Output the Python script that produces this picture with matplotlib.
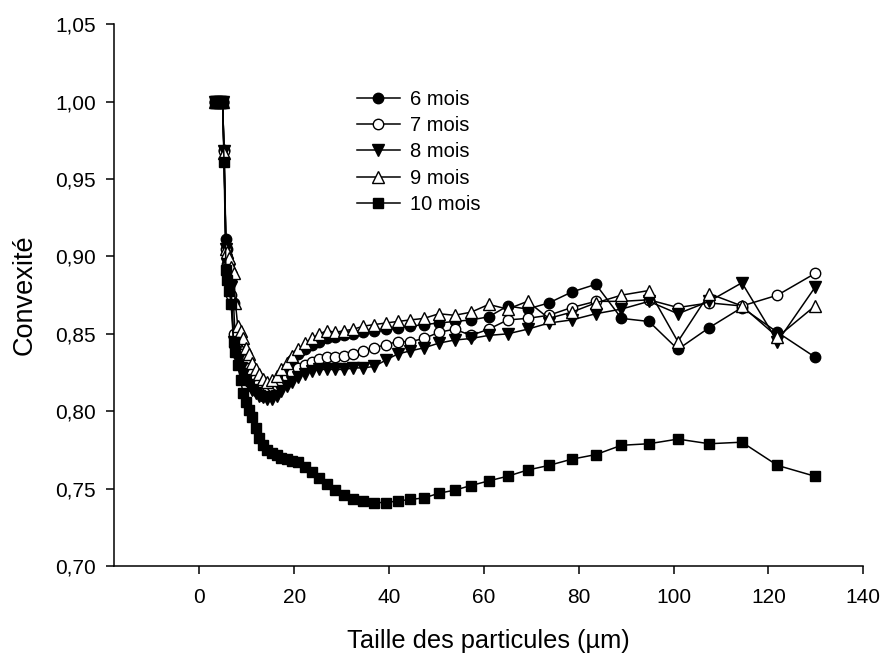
import matplotlib
matplotlib.use("Agg")
import matplotlib.pyplot as plt
from matplotlib.ticker import FuncFormatter

plt.rcParams['font.family'] = ['Liberation Sans', 'DejaVu Sans']

sizes = [3.4, 3.6, 3.8, 4.1, 4.3, 4.6, 4.9, 5.2, 5.6, 5.9, 6.3, 6.7, 7.2, 7.6, 8.1, 8.7,
         9.2, 9.8, 10.5, 11.1, 11.9, 12.6, 13.5, 14.3, 15.3, 16.3, 17.3, 18.4, 19.6,
         20.9, 22.3, 23.7, 25.3, 26.9, 28.7, 30.5, 32.5, 34.6, 36.9, 39.3, 41.8, 44.5,
         47.4, 50.5, 53.8, 57.3, 61.0, 65.0, 69.2, 73.7, 78.5, 83.6, 89.0, 94.8, 100.9,
         107.5, 114.4, 121.9, 129.8]

m6 = [1.0, 1.0, 1.0, 1.0, 1.0, 1.0, 1.0, 0.969, 0.911, 0.905, 0.895, 0.885, 0.870, 0.845,
      0.840, 0.835, 0.830, 0.826, 0.822, 0.818, 0.814, 0.812, 0.810, 0.810, 0.812, 0.816,
      0.822, 0.828, 0.833, 0.837, 0.840, 0.843, 0.845, 0.847, 0.848, 0.849, 0.850, 0.851,
      0.852, 0.853, 0.854, 0.855, 0.856, 0.857, 0.858, 0.859, 0.861, 0.868, 0.866, 0.870,
      0.877, 0.882, 0.860, 0.858, 0.840, 0.854, 0.867, 0.851, 0.835]

m7 = [1.0, 1.0, 1.0, 1.0, 1.0, 1.0, 1.0, 0.968, 0.905, 0.895, 0.888, 0.875, 0.850, 0.843,
      0.840, 0.837, 0.834, 0.831, 0.828, 0.825, 0.822, 0.819, 0.817, 0.816, 0.816, 0.817,
      0.819, 0.822, 0.825, 0.828, 0.830, 0.832, 0.834, 0.835, 0.835, 0.836, 0.837, 0.839,
      0.841, 0.843, 0.845, 0.845, 0.847, 0.851, 0.853, 0.849, 0.853, 0.859, 0.860, 0.862,
      0.867, 0.871, 0.871, 0.872, 0.867, 0.870, 0.868, 0.875, 0.889]

m8 = [1.0, 1.0, 1.0, 1.0, 1.0, 1.0, 1.0, 0.968, 0.905, 0.895, 0.888, 0.880, 0.845, 0.838,
      0.833, 0.828, 0.824, 0.820, 0.817, 0.814, 0.812, 0.810, 0.809, 0.808, 0.808, 0.810,
      0.813, 0.816, 0.819, 0.822, 0.824, 0.826, 0.827, 0.827, 0.827, 0.827, 0.828, 0.828,
      0.829, 0.833, 0.837, 0.839, 0.841, 0.844, 0.846, 0.847, 0.849, 0.850, 0.853, 0.857,
      0.859, 0.863, 0.866, 0.871, 0.863, 0.871, 0.883, 0.845, 0.880]

m9 = [1.0, 1.0, 1.0, 1.0, 1.0, 1.0, 1.0, 0.967, 0.905, 0.903, 0.899, 0.893, 0.889, 0.870,
      0.855, 0.852, 0.847, 0.841, 0.837, 0.831, 0.827, 0.824, 0.821, 0.819, 0.820, 0.823,
      0.827, 0.831, 0.836, 0.840, 0.844, 0.847, 0.850, 0.852, 0.851, 0.852, 0.853, 0.855,
      0.856, 0.857, 0.858, 0.859, 0.860, 0.863, 0.862, 0.864, 0.869, 0.866, 0.871, 0.860,
      0.864, 0.870, 0.875, 0.878, 0.845, 0.876, 0.868, 0.848, 0.868]

m10 = [1.0, 1.0, 1.0, 1.0, 1.0, 1.0, 1.0, 0.961, 0.891, 0.885, 0.878, 0.869, 0.845, 0.838,
       0.830, 0.820, 0.812, 0.806, 0.801, 0.796, 0.789, 0.783, 0.778, 0.775, 0.773, 0.772,
       0.770, 0.769, 0.768, 0.767, 0.764, 0.761, 0.757, 0.753, 0.749, 0.746, 0.743, 0.742,
       0.741, 0.741, 0.742, 0.743, 0.744, 0.747, 0.749, 0.752, 0.755, 0.758, 0.762, 0.765,
       0.769, 0.772, 0.778, 0.779, 0.782, 0.779, 0.780, 0.765, 0.758]

labels = ["6 mois", "7 mois", "8 mois", "9 mois", "10 mois"]
series = [m6, m7, m8, m9, m10]
markers = ["o", "o", "v", "^", "s"]
faces = ["black", "white", "black", "white", "black"]

x_ticks = [0, 20, 40, 60, 80, 100, 120, 140]
y_ticks = [0.70, 0.75, 0.80, 0.85, 0.90, 0.95, 1.00, 1.05]

fig = plt.figure(figsize=(8.85, 6.57), dpi=100)
ax = fig.add_axes([0.1288, 0.1385, 0.9755 - 0.1288, 0.963 - 0.1385])

for vals, lab, mk, fc in zip(series, labels, markers, faces):
    ms = 7.5 if mk in ("o", "s") else 8.5
    ax.plot(sizes, vals, color="black", lw=1.1, marker=mk, ms=ms,
            markerfacecolor=fc, markeredgecolor="black", markeredgewidth=1.0,
            label=lab)

ax.set_xlim(-18, 140)
ax.set_ylim(0.70, 1.05)
ax.set_xticks(x_ticks)
ax.set_yticks(y_ticks)
ax.yaxis.set_major_formatter(FuncFormatter(lambda v, p: f"{v:.2f}".replace(".", ",")))
for s in ("top", "right"):
    ax.spines[s].set_visible(False)
for s in ("left", "bottom"):
    ax.spines[s].set_linewidth(1.1)
ax.tick_params(axis="x", direction="out", length=6, width=1.1, pad=10, labelsize=15)
ax.tick_params(axis="y", direction="out", length=6, width=1.1, pad=7, labelsize=15)

ax.set_xlabel("Taille des particules (µm)", fontsize=18.3, labelpad=16)
ax.set_ylabel("Convexité", fontsize=19.5, labelpad=13)

ax.legend(loc="upper left", bbox_to_anchor=(0.324, 0.879), frameon=False, fontsize=14.5,
          handlelength=2.15, handletextpad=0.5, labelspacing=0.36, borderaxespad=0,
          borderpad=0)

fig.savefig("out.png", dpi=100)
